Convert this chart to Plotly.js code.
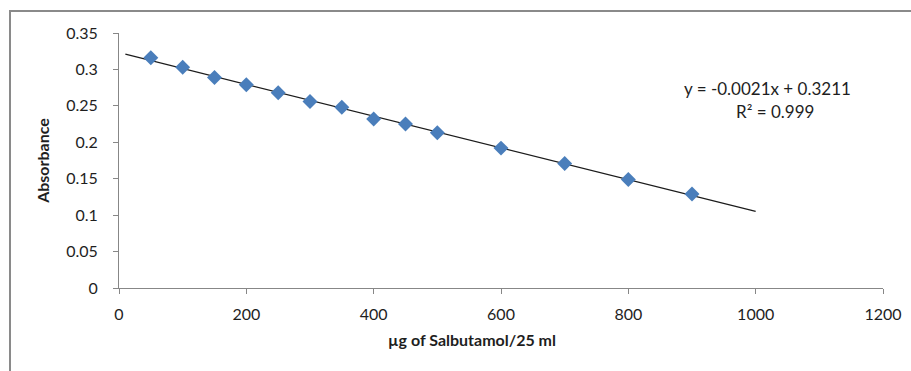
<!DOCTYPE html>
<html>
<head>
<meta charset="utf-8">
<script src="https://cdn.plot.ly/plotly-3.0.1.min.js"></script>
<style>
  html, body { margin: 0; padding: 0; background: #ffffff; overflow: hidden; }
  #frame { position: absolute; left: 9px; top: 10px; width: 930px; height: 400px;
           border: 2px solid #8a8a8a; box-sizing: border-box; pointer-events: none; z-index: 2; }
  #chart { position: absolute; left: 0; top: 0; width: 911px; height: 371px; }
</style>
</head>
<body>
<div id="chart"></div>
<div id="frame"></div>
<script>
// Data
var concentration = [50, 100, 150, 200, 250, 300, 350, 400, 450, 500, 600, 700, 800, 900];
var absorbance    = [0.316, 0.303, 0.289, 0.279, 0.268, 0.256, 0.248, 0.232, 0.225, 0.213, 0.192, 0.171, 0.149, 0.129];
var xTickValues   = [0, 200, 400, 600, 800, 1000, 1200];
var yTickValues   = [0, 0.05, 0.1, 0.15, 0.2, 0.25, 0.3, 0.35];
var yTickLabels   = ["0", "0.05", "0.1", "0.15", "0.2", "0.25", "0.3", "0.35"];
var trendRange    = [10, 1000];
var equationText  = "y = -0.0021x + 0.3211";
var r2Text        = "R\u00B2 = 0.999";
var xTitle        = "\u00B5g of Salbutamol/25 ml";
var yTitle        = "Absorbance";

// Least-squares linear fit computed from the data
function linearFit(xs, ys) {
  var n = xs.length, sx = 0, sy = 0, sxx = 0, sxy = 0;
  for (var i = 0; i < n; i++) { sx += xs[i]; sy += ys[i]; sxx += xs[i]*xs[i]; sxy += xs[i]*ys[i]; }
  var m = (n*sxy - sx*sy) / (n*sxx - sx*sx);
  var b = (sy - m*sx) / n;
  return {m: m, b: b};
}
var fit = linearFit(concentration, absorbance);
var trendX = trendRange.slice();
var trendY = trendX.map(function (x) { return fit.m * x + fit.b; });

var font = "Lato, 'Open Sans', sans-serif";
var textColor = "#1e1e1e";
var axisColor = "#878787";

var traces = [
  {
    x: trendX, y: trendY, type: "scatter", mode: "lines",
    line: {color: "#1c1c1c", width: 1.2},
    hoverinfo: "skip", showlegend: false
  },
  {
    x: concentration, y: absorbance, type: "scatter", mode: "markers",
    marker: {symbol: "diamond", size: 11.5, color: "#4a7ebb", line: {width: 0}},
    showlegend: false
  }
];

var layout = {
  width: 911, height: 371,
  margin: {l: 119, r: 28, t: 33, b: 83},
  paper_bgcolor: "#ffffff", plot_bgcolor: "#ffffff",
  font: {family: font, size: 16, color: textColor},
  showlegend: false,
  xaxis: {
    range: [0, 1200], tickvals: xTickValues, ticktext: xTickValues.map(String),
    showgrid: false, zeroline: false, showline: true, linecolor: axisColor, linewidth: 1,
    ticks: "outside", ticklen: 5, tickcolor: axisColor, tickwidth: 1,
    ticklabelstandoff: 7,
    tickfont: {family: font, size: 16, color: textColor}
  },
  yaxis: {
    range: [0, 0.35], tickvals: yTickValues, ticktext: yTickLabels,
    showgrid: false, zeroline: false, showline: true, linecolor: axisColor, linewidth: 1,
    ticks: "outside", ticklen: 5, tickcolor: axisColor, tickwidth: 1,
    ticklabelstandoff: 12,
    tickfont: {family: font, size: 16, color: textColor},
    title: {text: "<b>" + yTitle + "</b>", font: {family: font, size: 16, color: textColor}, standoff: 12}
  },
  annotations: [
    {text: "<b>" + xTitle + "</b>", xref: "paper", yref: "paper", x: 0.4616, y: -0.2,
     xanchor: "center", yanchor: "middle", showarrow: false,
     font: {family: font, size: 16, color: textColor}},
    {text: equationText, xref: "paper", yref: "paper", x: 0.849, y: 0.782,
     xanchor: "center", yanchor: "middle", showarrow: false,
     font: {family: font, size: 17, color: textColor}},
    {text: r2Text, xref: "paper", yref: "paper", x: 0.859, y: 0.692,
     xanchor: "center", yanchor: "middle", showarrow: false,
     font: {family: font, size: 17, color: textColor}}
  ]
};

Plotly.newPlot("chart", traces, layout, {displayModeBar: false, staticPlot: true});
</script>
</body>
</html>
